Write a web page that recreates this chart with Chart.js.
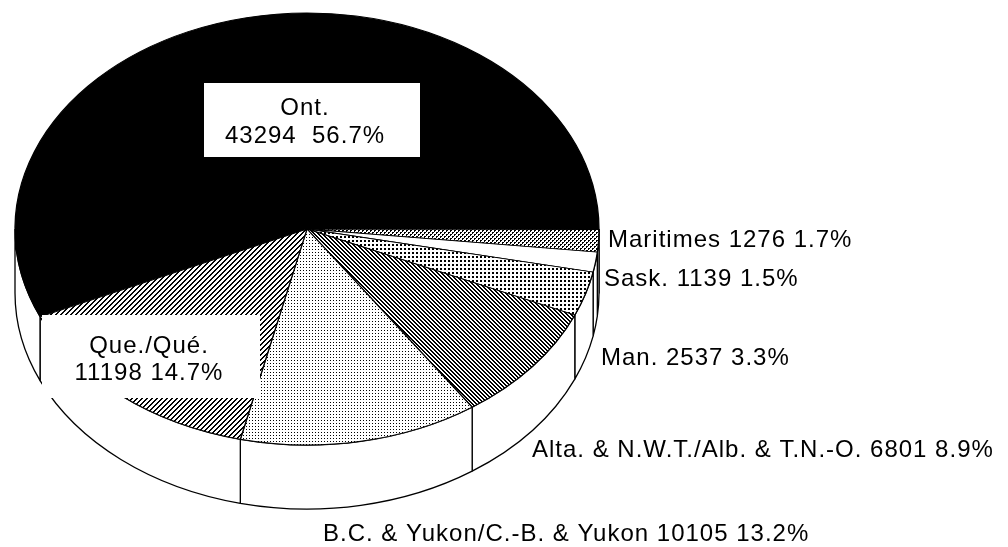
<!DOCTYPE html>
<html>
<head>
<meta charset="utf-8">
<script src="https://cdn.jsdelivr.net/npm/chart.js@4.4.1/dist/chart.umd.min.js"></script>
<style>
  html,body{margin:0;padding:0;background:#fff;overflow:hidden}
  canvas{display:block}
</style>
</head>
<body>
<canvas id="pie" width="1008" height="547"></canvas>
<script>
// slices in drawing order (clockwise from the lower left)
const regions = ['Ont.', 'Maritimes', 'Sask.', 'Man.', 'Alta. & N.W.T./Alb. & T.N.-O.', 'B.C. & Yukon/C.-B. & Yukon', 'Que./Qué.'];
const counts  = [43294, 1276, 1139, 2537, 6801, 10105, 11198];
const shares  = ['56.7%', '1.7%', '1.5%', '3.3%', '8.9%', '13.2%', '14.7%'];

// ellipse of the top face, and how thick the pie is
const CX = 307, CY = 229, RX = 292, RY = 216, DEPTH = 64;

// where each label sits (boxed ones get two lines)
const spots = [
  {box:[204,83,216,74], x:305, y:[115,143], sep:'  '},
  {x:608, y:247},
  {x:604, y:286},
  {x:601, y:365},
  {x:532, y:457},
  {x:323, y:541},
  {box:[42,315,218,83], x:149, y:[353,380], sep:' '}
];

const cv = document.getElementById('pie');
const ctx = cv.getContext('2d');

function tile(n, pix){
  const c = document.createElement('canvas'); c.width = c.height = n;
  const g = c.getContext('2d');
  g.fillStyle = '#fff'; g.fillRect(0,0,n,n);
  g.fillStyle = '#000';
  pix.forEach(([x,y]) => g.fillRect(x,y,1,1));
  return ctx.createPattern(c, 'repeat');
}
const range = n => Array.from({length:n}, (_,i)=>i);
const fills = [
  '#000',
  tile(4, [[0,0],[1,0],[0,1],[2,2],[3,2],[2,3]]),                // dense dots
  '#fff',
  tile(4, [[0,0],[1,0],[0,1],[1,1]]),                            // coarse dots
  tile(4, range(4).flatMap(i => [[i,i],[(i+1)%4,i]])),           // \\\ stripes
  tile(3, [[0,0]]),                                              // light stipple
  tile(5, range(5).flatMap(i => [[4-i,i],[(5-i)%5,i]]))          // /// stripes
];
const patterns = fills.filter(f => typeof f !== 'string');

const pie3d = {
  id:'pie3d',
  beforeDatasetsDraw(chart){
    const {ctx} = chart;
    const arcs = chart.getDatasetMeta(0).data;
    const X0 = arcs[0].x, Y0 = arcs[0].y, R0 = arcs[0].outerRadius;
    const sx = RX/R0, sy = RY/R0;
    // side wall, only the front half is visible
    ctx.save();
    ctx.fillStyle = '#fff'; ctx.strokeStyle = '#000'; ctx.lineWidth = 1.3; ctx.lineJoin = 'bevel';
    arcs.forEach(a => {
      for(let k=0;k<3;k++){
        const base = 2*Math.PI*k;
        const lo = Math.max(a.startAngle, base), hi = Math.min(a.endAngle, base+Math.PI);
        if(hi <= lo) continue;
        ctx.beginPath();
        ctx.ellipse(CX, CY, RX, RY, 0, lo-base, hi-base);
        ctx.ellipse(CX, CY+DEPTH, RX, RY, 0, hi-base, lo-base, true);
        ctx.closePath(); ctx.fill(); ctx.stroke();
      }
    });
    ctx.restore();
    // squash the library's circle into the top ellipse
    patterns.forEach(p => p.setTransform(new DOMMatrix([1/sx,0,0,1/sy, X0-CX/sx, Y0-CY/sy])));
    ctx.save();
    ctx.translate(CX, CY); ctx.scale(sx, sy); ctx.translate(-X0, -Y0);
  },
  afterDatasetsDraw(chart){
    chart.ctx.restore();
  },
  afterDraw(chart){
    const {ctx} = chart;
    ctx.save();
    ctx.font = '24px "Liberation Sans", Arial, sans-serif';
    ctx.letterSpacing = '1px';
    ctx.textBaseline = 'alphabetic';
    spots.forEach((s, i) => {
      if(s.box){
        ctx.fillStyle = '#fff'; ctx.fillRect(...s.box);
        ctx.fillStyle = '#000'; ctx.textAlign = 'center';
        ctx.fillText(regions[i], s.x, s.y[0]);
        ctx.fillText(counts[i] + s.sep + shares[i], s.x, s.y[1]);
      } else {
        ctx.fillStyle = '#000'; ctx.textAlign = 'left';
        ctx.fillText(`${regions[i]} ${counts[i]} ${shares[i]}`, s.x, s.y);
      }
    });
    ctx.restore();
  }
};

new Chart(cv, {
  type:'pie',
  data:{labels:regions, datasets:[{data:counts, backgroundColor:fills, borderColor:'#000', borderWidth:1.2,
    borderJoinStyle:'bevel', clip:false}]},
  options:{
    responsive:false, devicePixelRatio:1, animation:false, events:[],
    rotation:246,
    plugins:{legend:{display:false}, tooltip:{enabled:false}}
  },
  plugins:[pie3d]
});
</script>
</body>
</html>
